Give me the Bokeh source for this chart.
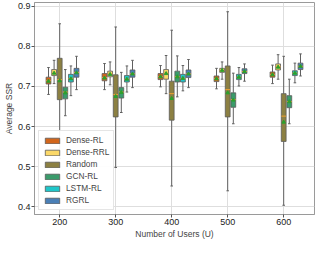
from bokeh.plotting import figure
from bokeh.models import ColumnDataSource, FixedTicker, Range1d
from bokeh.embed import file_html
from bokeh.resources import INLINE

users = [200, 300, 400, 500, 600]
series = ["Dense-RL", "Dense-RRL", "Random", "GCN-RL", "LSTM-RL", "RGRL"]
colors = ["#d2661c", "#fbd868", "#8c8042", "#3a9b6b", "#1fc6c9", "#4a7fb6"]

# per series (rows) and per user count (columns)
whishi = [
    [0.747, 0.757, 0.752, 0.745, 0.753],
    [0.765, 0.761, 0.777, 0.761, 0.779],
    [0.856, 0.848, 0.840, 0.886, 0.775],
    [0.742, 0.735, 0.776, 0.733, 0.718],
    [0.751, 0.751, 0.752, 0.747, 0.758],
    [0.775, 0.765, 0.767, 0.756, 0.781],
]
q3 = [
    [0.723, 0.732, 0.732, 0.726, 0.736],
    [0.742, 0.738, 0.742, 0.745, 0.756],
    [0.770, 0.729, 0.713, 0.751, 0.682],
    [0.698, 0.697, 0.738, 0.684, 0.677],
    [0.730, 0.727, 0.730, 0.730, 0.739],
    [0.745, 0.741, 0.741, 0.744, 0.758],
]
med = [
    [0.714, 0.722, 0.724, 0.719, 0.729],
    [0.733, 0.731, 0.733, 0.740, 0.749],
    [0.717, 0.680, 0.682, 0.692, 0.626],
    [0.686, 0.686, 0.724, 0.667, 0.662],
    [0.720, 0.718, 0.720, 0.723, 0.733],
    [0.735, 0.731, 0.731, 0.737, 0.750],
]
mean = [
    [0.713, 0.721, 0.724, 0.719, 0.729],
    [0.733, 0.730, 0.732, 0.740, 0.748],
    [0.714, 0.675, 0.670, 0.684, 0.611],
    [0.684, 0.685, 0.724, 0.666, 0.662],
    [0.719, 0.718, 0.720, 0.723, 0.733],
    [0.734, 0.731, 0.731, 0.737, 0.750],
]
q1 = [
    [0.706, 0.714, 0.717, 0.712, 0.723],
    [0.727, 0.724, 0.718, 0.735, 0.741],
    [0.667, 0.624, 0.616, 0.624, 0.563],
    [0.669, 0.671, 0.711, 0.648, 0.647],
    [0.711, 0.711, 0.711, 0.717, 0.727],
    [0.723, 0.723, 0.722, 0.732, 0.742],
]
whislo = [
    [0.680, 0.692, 0.699, 0.694, 0.707],
    [0.707, 0.704, 0.682, 0.718, 0.718],
    [0.520, 0.498, 0.452, 0.440, 0.404],
    [0.627, 0.635, 0.674, 0.607, 0.607],
    [0.677, 0.686, 0.689, 0.701, 0.709],
    [0.692, 0.697, 0.697, 0.713, 0.726],
]

FONT = "Liberation Sans"
step = 10.0
box_w = 8.6
cap_w = 4.6

p = figure(width=316, height=241, output_backend="svg", toolbar_location=None,
           x_range=Range1d(155, 655), y_range=Range1d(0.381, 0.909))
p.min_border_left = 2
p.min_border_right = 2
p.min_border_top = 2
p.min_border_bottom = 2
p.background_fill_color = "white"
p.outline_line_color = "#9a9a9a"
p.outline_line_width = 1

for i, name in enumerate(series):
    xs = [u + (i - 2) * step for u in users]
    src = ColumnDataSource(dict(x=xs, lo=whislo[i], q1=q1[i], med=med[i], q3=q3[i],
                                hi=whishi[i], mean=mean[i],
                                cl=[x - cap_w / 2 for x in xs], cr=[x + cap_w / 2 for x in xs],
                                bl=[x - box_w / 2 for x in xs], br=[x + box_w / 2 for x in xs]))
    p.segment(x0="x", y0="q3", x1="x", y1="hi", source=src, line_color="#606060", line_width=1)
    p.segment(x0="x", y0="lo", x1="x", y1="q1", source=src, line_color="#606060", line_width=1)
    p.segment(x0="cl", y0="hi", x1="cr", y1="hi", source=src, line_color="#606060", line_width=1)
    p.segment(x0="cl", y0="lo", x1="cr", y1="lo", source=src, line_color="#606060", line_width=1)
    p.vbar(x="x", width=box_w, bottom="q1", top="q3", source=src, fill_color=colors[i],
           line_color="#5a5a5a", line_width=0.8, legend_label=name)
    p.segment(x0="bl", y0="med", x1="br", y1="med", source=src, line_color="#f0a030", line_width=1)
    p.scatter(x="x", y="mean", source=src, marker="triangle", size=3.5,
              fill_color="#2ca02c", line_color="#2ca02c")

p.xaxis.ticker = FixedTicker(ticks=users)
p.yaxis.ticker = FixedTicker(ticks=[0.4, 0.5, 0.6, 0.7, 0.8, 0.9])
p.xaxis.axis_label = "Number of Users (U)"
p.yaxis.axis_label = "Average SSR"
for ax in (p.xaxis[0], p.yaxis[0]):
    ax.axis_label_text_font = FONT
    ax.axis_label_text_font_size = "8.5px"
    ax.axis_label_text_font_style = "normal"
    ax.major_label_text_font = FONT
    ax.major_label_text_font_size = "9px"
    ax.major_label_text_color = "#222222"
    ax.axis_line_color = "#9a9a9a"
    ax.major_tick_line_color = "#555555"
    ax.major_tick_out = 3
    ax.major_tick_in = 0
    ax.minor_tick_line_color = None
    ax.major_label_standoff = 1
    ax.axis_label_standoff = 1

p.xgrid.grid_line_color = "#dedede"
p.ygrid.grid_line_color = "#dedede"
p.xgrid.ticker = FixedTicker(ticks=users)
p.ygrid.ticker = FixedTicker(ticks=[0.4, 0.5, 0.6, 0.7, 0.8, 0.9])

lg = p.legend[0]
lg.location = "bottom_left"
lg.margin = 4
lg.padding = 4
lg.spacing = 2
lg.glyph_width = 18
lg.glyph_height = 7
lg.label_height = 10
lg.label_standoff = 5
lg.label_text_font = FONT
lg.label_text_font_size = "8.3px"
lg.border_line_color = "#cccccc"
lg.background_fill_alpha = 0.92

open("out.html", "w").write(file_html(p, INLINE))
